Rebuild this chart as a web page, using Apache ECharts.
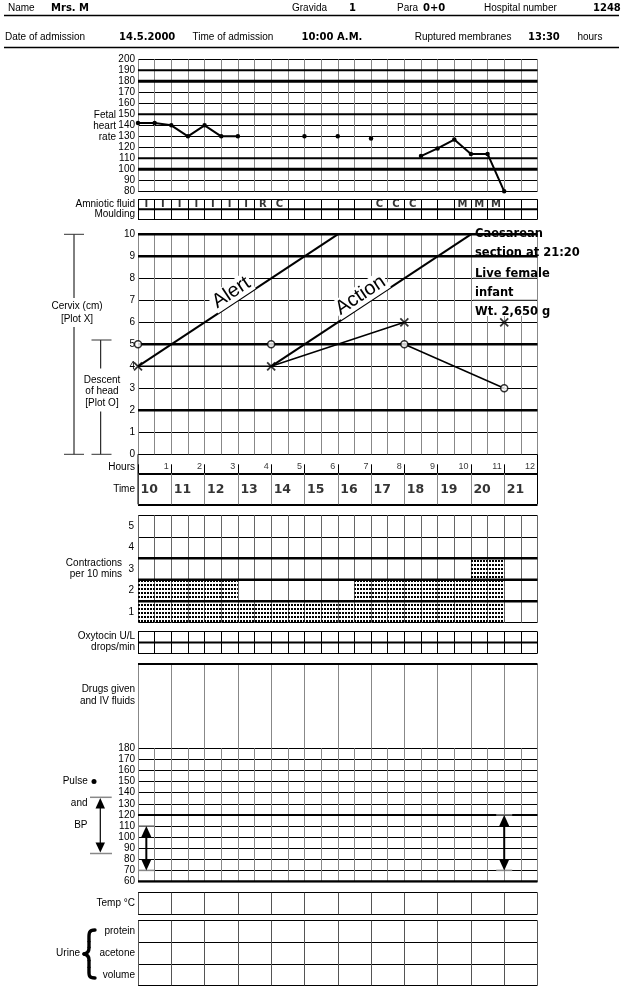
<!DOCTYPE html>
<html><head><meta charset="utf-8">
<script src="https://cdn.jsdelivr.net/npm/echarts@6/dist/echarts.min.js"></script>
<style>html,body{margin:0;padding:0;background:#fff}#c{width:622px;height:986px}</style>
</head><body><div id="c"></div>
<script>
// ---------------- data ----------------
const headerRow1 = [['Name','Mrs. M'],['Gravida','1'],['Para','0+0'],['Hospital number','1248']];
const headerRow2 = [['Date of admission','14.5.2000'],['Time of admission','10:00 A.M.'],['Ruptured membranes','13:30']];
// fetal heart rate, one reading per half hour (null = not recorded)
const fhrValues = [142,142,140,130,140,130,130,null,null,null,130,null,130,null,128,null,null,112,119,127,114,114,80,null];
const amnioticFluid = ['I','I','I','I','I','I','I','R','C','','','','','','C','C','C','','','M','M','M','',''];
const cervixHours = [0,4,8,11];
const cervixDilation = [4,4,6,6];
const cervixJoinedCount = 3;           // first three X marks are joined
const descentHours = [0,4,8,11];
const descentValues = [5,5,5,3];
const alertHours = [0,6], alertCm = [4,10];
const actionHours = [4,10], actionCm = [4,10];
const hourLabels = ['1','2','3','4','5','6','7','8','9','10','11','12'];
const timeLabels = ['10','11','12','13','14','15','16','17','18','19','20','21'];
const contractions = [2,2,2,2,2,2,1,1,1,1,1,1,1,2,2,2,2,2,2,2,3,3,0,0];
const contractionLabels = ['1','2','3','4','5'];
const bpHours = [0.25, 11];
const bpSystolic = [110, 120];
const bpDiastolic = [70, 70];
const deliveryNote = ['Caesarean','section at 21:20','Live female','infant','Wt. 2,650 g'];

// ---------------- layout ----------------
const FONT = 'Liberation Sans', HAND = 'DejaVu Sans';
const L = 138, W = 399.5;
const chart = echarts.init(document.getElementById('c'), null, {renderer:'canvas'});
const gridBoxes = [
  [59.3,132],[199.3,20],[234.3,220],[454.3,19],[473.3,31],[515.3,107.4],
  [631.7,21.6],[664,84.3],[748.3,133.2],[892.7,21.6],[920.7,64.6]
];
const grid = gridBoxes.map(g => ({left:L, width:W, top:g[0], height:g[1], containLabel:false, outerBoundsMode:'none'}));
const ax = (gi, interval, color) => ({gridIndex:gi, type:'value', min:0, max:12, interval,
  axisLine:{show:false}, axisTick:{show:false}, axisLabel:{show:false},
  splitLine:{show:true, lineStyle:{color, width:1}}});
const ay = (gi, min, max, interval, showLabel, split) => ({gridIndex:gi, type:'value', min, max, interval,
  axisLine:{show:false}, axisTick:{show:false},
  axisLabel:{show:!!showLabel, color:'#000', fontSize:10, fontFamily:FONT, margin:3, hideOverlap:false},
  splitLine: split || {show:true, lineStyle:{color:'#000', width:1}}});
const xAxis = [
  ax(0,0.5,'#888'), ax(1,0.5,'#000'), ax(2,0.5,'#888'),
  {gridIndex:3, type:'value', min:0, max:12, interval:1, axisLine:{show:false},
   axisTick:{show:true, inside:true, length:9, lineStyle:{color:'#000', width:1}},
   axisLabel:{show:false}, splitLine:{show:false}},
  ax(4,1,'#888'), ax(5,0.5,'#666'), ax(6,0.5,'#000'), ax(7,1,'#888'),
  ax(8,0.5,'#888'), ax(9,1,'#555'), ax(10,1,'#555')
];
const yAxis = [
  ay(0,80,200,10,true), ay(1,0,2,1), ay(2,0,10,1,true),
  ay(3,0,1,1,false,{show:false}),
  ay(4,0,1,1,false,{show:true, lineStyle:{color:'#000', width:2}}),
  ay(5,0,5,1), ay(6,0,2,1), ay(7,0,1,1), ay(8,60,180,10,true), ay(9,0,1,1), ay(10,0,3,1),
  {gridIndex:5, type:'category', data:contractionLabels, position:'left', axisLine:{show:false},
   axisTick:{show:false}, splitLine:{show:false},
   axisLabel:{color:'#000', fontSize:10, fontFamily:FONT, margin:4}}
];
function hline(i, y, w){
  return {type:'line', xAxisIndex:i, yAxisIndex:i, data:[[0,y],[12,y]], symbol:'none', silent:true,
    lineStyle:{color:'#000', width:w}, z:3, animation:false};
}
function textSeries(i, data, pos, dist, size, weight, family){
  return {type:'scatter', xAxisIndex:i, yAxisIndex:i, data, symbolSize:1, silent:true,
    itemStyle:{color:'rgba(0,0,0,0)'}, z:6,
    label:{show:true, position:pos, distance:dist, formatter:p=>p.value[2], color:'#000',
      fontSize:size, fontWeight:weight||'normal', fontFamily:family||FONT}};
}
// stipple pattern for contraction cells
const pat = document.createElement('canvas'); pat.width = 3; pat.height = 4;
const pctx = pat.getContext('2d'); pctx.fillStyle = '#000'; pctx.fillRect(0,0,2,2);

const series = [];
// fetal heart rate
[[190,2],[180,3],[150,2],[110,2],[100,3]].forEach(d => series.push(hline(0,d[0],d[1])));
series.push({type:'line', xAxisIndex:0, yAxisIndex:0,
  data: fhrValues.map((v,i) => [i*0.5, v == null ? '-' : v]),
  symbol:'circle', symbolSize:4.5, showSymbol:true, connectNulls:false,
  lineStyle:{color:'#000', width:2}, itemStyle:{color:'#000'}, z:5, animation:false});
// amniotic fluid / moulding
series.push(hline(1,1,2));
series.push(textSeries(1, amnioticFluid.map((s,i)=>[i*0.5+0.25,1.5,s]).filter(d=>d[2]), 'inside', 0, 10, 'bold', HAND));
// cervix
[[10,2.5],[9,2.5],[5,2.5],[2,2.5]].forEach(d => series.push(hline(2,d[0],d[1])));
series.push({type:'line', xAxisIndex:2, yAxisIndex:2, data:alertHours.map((h,i)=>[h,alertCm[i]]),
  symbol:'none', lineStyle:{color:'#000', width:2}, z:4, animation:false});
series.push({type:'line', xAxisIndex:2, yAxisIndex:2, data:actionHours.map((h,i)=>[h,actionCm[i]]),
  symbol:'none', lineStyle:{color:'#000', width:2}, z:4, animation:false});
series.push({type:'line', xAxisIndex:2, yAxisIndex:2,
  data:cervixHours.slice(0,cervixJoinedCount).map((h,i)=>[h,cervixDilation[i]]),
  symbol:'none', lineStyle:{color:'#000', width:1.5}, z:4, animation:false});
series.push({type:'line', xAxisIndex:2, yAxisIndex:2, data:descentHours.map((h,i)=>[h,descentValues[i]]),
  symbol:'none', lineStyle:{color:'#000', width:1.5}, z:4, animation:false});
series.push({type:'scatter', xAxisIndex:2, yAxisIndex:2, data:cervixHours.map((h,i)=>[h,cervixDilation[i]]),
  symbol:'path://M0,0L10,10M10,0L0,10', symbolSize:8,
  itemStyle:{color:'#000', borderColor:'#000', borderWidth:1.8}, z:6, silent:true});
series.push({type:'scatter', xAxisIndex:2, yAxisIndex:2, data:descentHours.map((h,i)=>[h,descentValues[i]]),
  symbol:'circle', symbolSize:7, itemStyle:{color:'#fff', borderColor:'#000', borderWidth:1.5}, z:6, silent:true});
// hours and time rows
series.push(textSeries(3, hourLabels.map((s,i)=>[i+1,0.35,s]), 'left', 2, 9));
series.push(textSeries(4, timeLabels.map((s,i)=>[i,0.47,s]), 'right', 2, 12.5, 'bold', HAND));
// contractions
[[3,2.5],[2,2.5],[1,2.5]].forEach(d => series.push(hline(5,d[0],d[1])));
series.push({type:'custom', xAxisIndex:5, yAxisIndex:5, z:2, silent:true, animation:false,
  data: contractions.map((c,i)=>[i*0.5, c]),
  renderItem:(params, api) => {
    const x0 = api.value(0), c = api.value(1);
    if (!c) return null;
    const p0 = api.coord([x0,0]), p1 = api.coord([x0+0.5,c]);
    return {type:'rect', shape:{x:p0[0], y:p1[1], width:p1[0]-p0[0], height:p0[1]-p1[1]},
      style:{fill:{image:pat, repeat:'repeat'}}};
  }});
// oxytocin, drugs
series.push(hline(6,1,2));
series.push(hline(7,1,2));
// pulse & BP
series.push(hline(8,120,2));
series.push(hline(8,60,2.5));
series.push({type:'custom', xAxisIndex:8, yAxisIndex:8, z:6, silent:true, animation:false,
  data: bpHours.map((h,i)=>[h,bpSystolic[i],bpDiastolic[i]]),
  encode:{x:0, y:[1,2]},
  renderItem:(params, api) => {
    const top = api.coord([api.value(0), api.value(1)]);
    const bot = api.coord([api.value(0), api.value(2)]);
    const cx = top[0];
    return {type:'group', children:[
      {type:'line', shape:{x1:cx-8,y1:top[1],x2:cx+8,y2:top[1]}, style:{stroke:'#888', lineWidth:1.5}},
      {type:'line', shape:{x1:cx-8,y1:bot[1],x2:cx+8,y2:bot[1]}, style:{stroke:'#888', lineWidth:1.5}},
      {type:'line', shape:{x1:cx,y1:top[1]+8,x2:cx,y2:bot[1]-8}, style:{stroke:'#000', lineWidth:2}},
      {type:'polygon', shape:{points:[[cx,top[1]],[cx-5,top[1]+11],[cx+5,top[1]+11]]}, style:{fill:'#000'}},
      {type:'polygon', shape:{points:[[cx,bot[1]],[cx-5,bot[1]-11],[cx+5,bot[1]-11]]}, style:{fill:'#000'}}
    ]};
  }});

chart.setOption({animation:false, backgroundColor:'#fff', grid, xAxis, yAxis, series});

// ---------------- graphics (labels, brackets) ----------------
function T(x,y,text,o){ o=o||{}; return {type:'text', x, y, z:o.z||10, rotation:o.rot||0,
  style:{text, fill:'#000', fontSize:o.size||10, fontFamily:o.family||FONT, fontWeight:o.weight||'normal',
    align:o.align||'left', verticalAlign:'middle', backgroundColor:o.bg, padding:o.pad}}; }
function Ln(x1,y1,x2,y2,w,c,z){ return {type:'line', z:z||10, shape:{x1,y1,x2,y2}, style:{stroke:c||'#000', lineWidth:w||1}}; }
function Bz(x1,y1,c1x,c1y,c2x,c2y,x2,y2,w){ return {type:'bezierCurve', z:10,
  shape:{x1,y1,x2,y2,cpx1:c1x,cpy1:c1y,cpx2:c2x,cpy2:c2y}, style:{stroke:'#000', lineWidth:w, fill:null, lineCap:'round'}}; }
const B = {weight:'bold', family:HAND};
const R = {align:'right'}, C = {align:'center'};
const g = [];
// header
const Y1 = 8.5, Y2 = 37;
const r1x = [[8,51],[292,349],[397,423],[484,593]];
headerRow1.forEach((p,i)=>{ g.push(T(r1x[i][0],Y1,p[0])); g.push(T(r1x[i][1],Y1,p[1],B)); });
const r2x = [[5,119],[192.5,301.6],[414.7,528]];
headerRow2.forEach((p,i)=>{ g.push(T(r2x[i][0],Y2,p[0])); g.push(T(r2x[i][1],Y2,p[1],B)); });
g.push(T(577.4,Y2,'hours'));
g.push(Ln(4,15.5,619,15.5,1.5), Ln(4,47.5,619,47.5,1.5));
// left labels
g.push(T(116,115.7,'Fetal',R), T(116,126.5,'heart',R), T(116,137.3,'rate',R));
g.push(T(135,204.3,'Amniotic fluid',R), T(135,214.5,'Moulding',R));
g.push(T(77,306.7,'Cervix (cm)',C), T(77,319,'[Plot X]',C));
g.push(T(102,380.7,'Descent',C), T(102,391.7,'of head',C), T(102,403.3,'[Plot O]',C));
g.push(Ln(74,234.3,74,298), Ln(74,327,74,454.3), Ln(64,234.3,84,234.3,1,'#333'), Ln(64,454.3,84,454.3,1,'#333'));
g.push(Ln(100.7,340,100.7,368.5), Ln(100.7,411.5,100.7,454.3), Ln(91.5,340,111.5,340,1,'#333'), Ln(91.5,454.3,111.5,454.3,1,'#333'));
g.push(T(135,467,'Hours',R), T(135,489,'Time',R));
g.push(Ln(138,454.3,138,504.3), Ln(537.5,454.3,537.5,504.3));
g.push(T(122,563.5,'Contractions',R), T(122,574.5,'per 10 mins',R));
g.push(T(135,636.5,'Oxytocin U/L',R), T(135,647.5,'drops/min',R));
g.push(T(135,689.5,'Drugs given',R), T(135,701,'and IV fluids',R));
g.push(T(62.7,781.7,'Pulse'), {type:'circle', z:10, shape:{cx:94,cy:781.5,r:2.5}, style:{fill:'#000'}});
g.push(T(87.5,803.3,'and',R), T(87.5,825,'BP',R));
g.push(Ln(90,797.3,111.7,797.3,1.5,'#888'), Ln(90,853.5,112,853.5,1.5,'#888'), Ln(100.3,806,100.3,845,1.2));
g.push({type:'polygon', z:10, shape:{points:[[100.3,798],[95.5,808.5],[105,808.5]]}, style:{fill:'#000'}});
g.push({type:'polygon', z:10, shape:{points:[[100.3,852.5],[95.5,842.5],[105,842.5]]}, style:{fill:'#000'}});
g.push(T(135,903.5,'Temp °C',R));
g.push(T(135,931.5,'protein',R), T(135,953,'acetone',R), T(135,975,'volume',R), T(80,953,'Urine',R));
// urine brace
g.push(Bz(95,930,88,930,89,934,89,941,3.4), Ln(89,941,89,948,3.4), Bz(89,948,89,952,87,953.5,84,954,3.4),
       Bz(84,954,87,954.5,89,956,89,960,3.4), Ln(89,960,89,968,3.4), Bz(89,968,89,975,88,978,95,978,3.4));
// Alert / Action labels along their lines
const px = p => chart.convertToPixel({xAxisIndex:2, yAxisIndex:2}, p);
function lineLabel(text, h0, hs, vs, off){
  const a = px([hs[0],vs[0]]), b = px([hs[1],vs[1]]);
  const th = Math.atan2(a[1]-b[1], b[0]-a[0]);
  const t = (h0-hs[0])/(hs[1]-hs[0]);
  const p = px([h0, vs[0] + t*(vs[1]-vs[0])]);
  return T(p[0]-off*Math.sin(th), p[1]-off*Math.cos(th), text, {size:20, align:'center', rot:th, bg:'#fff', pad:[0,2], z:20});
}
g.push(lineLabel('Alert', 2.97, alertHours, alertCm, 10));
g.push(lineLabel('Action', 6.85, actionHours, actionCm, 10));
// delivery note box
g.push({type:'rect', z:20, shape:{x:473, y:229, width:63.5, height:87}, style:{fill:'#fff'}});
[[10,2.5],[9,2.5],[8,1],[7,1]].forEach(d => { const y = px([0,d[0]])[1]; g.push(Ln(473,y,537,y,d[1],'#000',21)); });
const noteY = [234.3,253.3,274,292.7,311.7];
deliveryNote.forEach((s,i)=>g.push(T(475,noteY[i],s,{weight:'bold', family:HAND, size:11.5, z:22})));
chart.setOption({graphic: g});
</script></body></html>
